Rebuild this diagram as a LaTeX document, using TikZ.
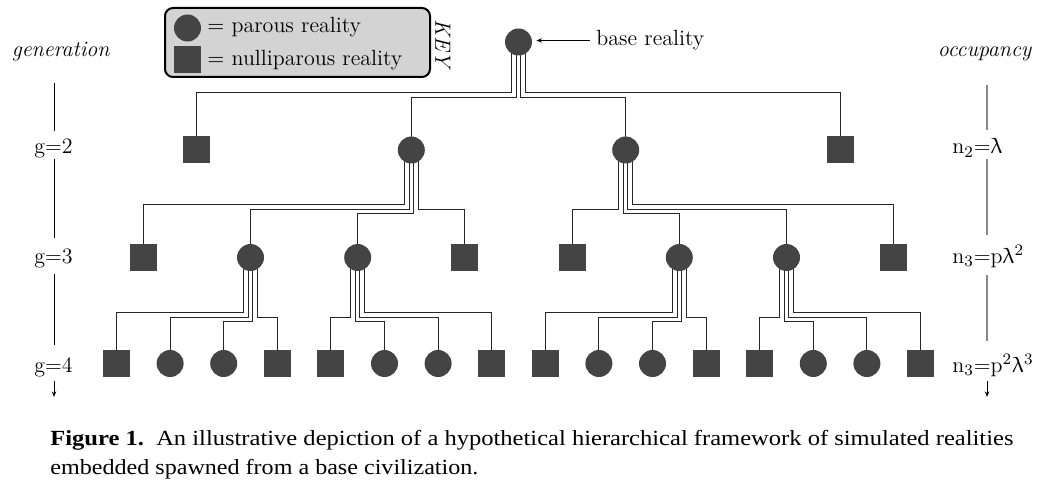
\documentclass[tikz,border=0pt]{standalone}
\usepackage{upgreek}
\usepackage{fontspec}
\newfontfamily\capfont{Liberation Serif}
\usetikzlibrary{arrows.meta}
\definecolor{nodegray}{HTML}{444444}
\definecolor{keygray}{HTML}{D3D3D3}
\definecolor{axgray}{HTML}{8A8A8A}
\pgfdeclarelayer{bg}
\pgfdeclarelayer{paper}
\pgfsetlayers{paper,bg,main}
% parent, child, dx (px), turning height (px)
\newcommand\linkto[4]{%
  \begin{pgfonlayer}{bg}
    \draw[conn] ([xshift={(#3)*0.5pt}]#1.center) |- (#2 |- 0,#4) -- (#2.center);
  \end{pgfonlayer}}
% left-type family: parent, four children, heights h1<h2<h3
\newcommand\famL[8]{%
  \linkto{#1}{#2}{-6.75}{#6}\linkto{#1}{#3}{-2.25}{#7}%
  \linkto{#1}{#4}{2.25}{#8}\linkto{#1}{#5}{6.75}{#7}}
\newcommand\famR[8]{%
  \linkto{#1}{#2}{-6.75}{#7}\linkto{#1}{#3}{-2.25}{#8}%
  \linkto{#1}{#4}{2.25}{#7}\linkto{#1}{#5}{6.75}{#6}}
\begin{document}
\begin{tikzpicture}[x=0.5pt,y=-0.5pt,
  par/.style={circle, fill=nodegray, minimum size=13.5pt, inner sep=0pt},
  nul/.style={rectangle, fill=nodegray, minimum size=13.5pt, inner sep=0pt},
  conn/.style={draw=black!85, line width=0.5pt},
  lbl/.style={font=\fontsize{11}{13}\selectfont, inner sep=0pt},
  axl/.style={draw=black, line width=0.5pt},
  axr/.style={draw=axgray, line width=0.6pt},
  tip/.style={-{Stealth[length=2.8pt,width=2.2pt]}}]
\begin{pgfonlayer}{paper}
\fill[white] (0,0) rectangle (1039,492);
\end{pgfonlayer}
\useasboundingbox (0,0) rectangle (1039,492);

% ---- tree nodes
\node[par] (base) at (518.5,42) {};
\foreach \i/\s in {1/nul,2/par,3/par,4/nul}
  \node[\s] (a\i) at ({116.5+53.6*(4*\i-2.5)},150) {};
\foreach \i/\s in {1/nul,2/par,3/par,4/nul,5/nul,6/par,7/par,8/nul}
  \node[\s] (b\i) at ({116.5+53.6*(2*\i-1.5)},257.5) {};
\foreach \i/\s in {1/nul,2/par,3/par,4/nul,5/nul,6/par,7/par,8/nul,9/nul,10/par,11/par,12/nul,13/nul,14/par,15/par,16/nul}
  \node[\s] (c\i) at ({116.5+53.6*(\i-1)},363.5) {};

% ---- connectors
\linkto{base}{a1}{-6.75}{93}
\linkto{base}{a2}{-2.25}{98}
\linkto{base}{a3}{2.25}{98}
\linkto{base}{a4}{6.75}{93}
\famL{a2}{b1}{b2}{b3}{b4}{204}{209}{213.5}
\famR{a3}{b5}{b6}{b7}{b8}{204}{209}{213.5}
\famL{b2}{c1}{c2}{c3}{c4}{312}{317}{321.5}
\famR{b3}{c5}{c6}{c7}{c8}{312}{317}{321.5}
\famL{b6}{c9}{c10}{c11}{c12}{312}{317}{321.5}
\famR{b7}{c13}{c14}{c15}{c16}{312}{317}{321.5}

% ---- base reality label
\node[lbl, anchor=west] (brl) at (596,40.5) {base reality};
\draw[tip, line width=0.5pt, shorten <=3pt, shorten >=2pt] (brl.west) -- (brl.west -| base.east);

% ---- key
\node[draw=black, line width=1pt, rounded corners=4pt, fill=keygray,
      minimum width=132.5pt, minimum height=34.5pt, inner sep=0pt] (key) at (297.5,42.5) {};
\node[par] (kpar) at (187.5,28) {};
\node[nul] (knul) at (187.5,60) {};
\node[lbl, anchor=base west] (kpt) at (207,33) {$=$ parous reality};
\node[lbl, anchor=base west] (knt) at (207,65.5) {$=$ nulliparous reality};
\node[lbl, rotate=-90] (keyl) at (443,45) {\textit{KEY}};

% ---- left axis
\node[lbl, anchor=base] (gen) at (61,57) {\textit{generation}};
\node[lbl, anchor=base] (g2) at (53.5,154) {g=2};
\node[lbl, anchor=base] (g3) at (53.5,263) {g=3};
\node[lbl, anchor=base] (g4) at (53.5,372) {g=4};
\coordinate (gtop) at (54,83);
\coordinate (gbot) at (54,397);
\draw[axl, shorten >=4pt] (gtop) -- (g2.north -| gtop);
\draw[axl, shorten <=0pt, shorten >=5pt] (g2.south -| gtop) -- (g3.north -| gtop);
\draw[axl, shorten <=3pt, shorten >=6pt] (g3.south -| gtop) -- (g4.north -| gtop);
\draw[axl, tip, shorten <=2pt] (g4.south -| gtop) -- (gbot);

% ---- right axis
\node[lbl, anchor=base] (occ) at (985,57) {\textit{occupancy}};
\node[lbl, anchor=base west] (n2) at (952,154) {n$_2$=$\uplambda$};
\node[lbl, anchor=base west] (n3) at (952,263) {n$_3$=p$\uplambda^2$};
\node[lbl, anchor=base west] (n4) at (952,372) {n$_3$=p$^2\uplambda^3$};
\coordinate (rtop) at (987,85);
\coordinate (rbot) at (987,397);
\draw[axr, shorten >=4pt] (rtop) -- (n2.north -| rtop);
\draw[axr, shorten <=0.5pt, shorten >=4.5pt] (n2.south -| rtop) -- (n3.north -| rtop);
\draw[axr, shorten <=3.5pt, shorten >=6pt] (n3.south -| rtop) -- (n4.north -| rtop);
\draw[axl, tip, shorten <=2pt] (n4.south -| rtop) -- (rbot);

% ---- caption
\node[anchor=base west, inner sep=0pt] (cap1) at (50,445)
  {\resizebox{481.5pt}{\height}{\capfont\fontsize{10.8}{12}\selectfont\textbf{Figure 1.}\ \ An illustrative depiction of a hypothetical hierarchical framework of simulated realities}};
\node[anchor=base west, inner sep=0pt] (cap2) at (50,474)
  {\resizebox{214pt}{\height}{\capfont\fontsize{10.8}{12}\selectfont embedded spawned from a base civilization.}};
\end{tikzpicture}
\end{document}
